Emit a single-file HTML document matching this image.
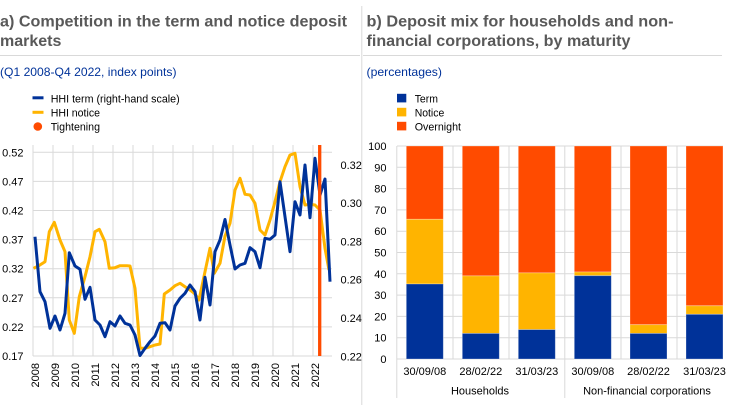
<!DOCTYPE html>
<html><head><meta charset="utf-8"><style>
html,body{margin:0;padding:0;background:#fff;}
svg{display:block;font-family:"Liberation Sans",Arial,sans-serif;}
</style></head><body>
<svg width="744" height="410" viewBox="0 0 744 410" xmlns="http://www.w3.org/2000/svg">
<rect width="744" height="410" fill="#fff"/>
<!-- titles -->
<g fill="#595959" font-weight="bold" font-size="16">
<text x="0" y="26.7" textLength="347" lengthAdjust="spacingAndGlyphs">a) Competition in the term and notice deposit</text>
<text x="0" y="46">markets</text>
<text x="366.5" y="26.7" textLength="307" lengthAdjust="spacingAndGlyphs">b) Deposit mix for households and non-</text>
<text x="366.5" y="46" textLength="264" lengthAdjust="spacingAndGlyphs">financial corporations, by maturity</text>
</g>
<line x1="0" y1="55.5" x2="360" y2="55.5" stroke="#d9d9d9" stroke-width="1"/>
<line x1="363" y1="55.5" x2="722" y2="55.5" stroke="#d9d9d9" stroke-width="1"/>
<line x1="361.8" y1="6" x2="361.8" y2="405" stroke="#d9d9d9" stroke-width="1"/>
<g fill="#003299" font-size="12">
<text x="0" y="76" textLength="176.5" lengthAdjust="spacingAndGlyphs">(Q1 2008-Q4 2022, index points)</text>
<text x="366.5" y="76" textLength="75.5" lengthAdjust="spacingAndGlyphs">(percentages)</text>
</g>
<!-- left legend -->
<line x1="32.5" y1="97.8" x2="43.5" y2="97.8" stroke="#003299" stroke-width="3"/>
<line x1="32.5" y1="112.3" x2="43.5" y2="112.3" stroke="#ffb400" stroke-width="3"/>
<circle cx="37.8" cy="126.5" r="4.3" fill="#ff4b00"/>
<g font-size="11" fill="#000">
<text x="50.7" y="102.3" textLength="129" lengthAdjust="spacingAndGlyphs">HHI term (right-hand scale)</text>
<text x="50.7" y="116.3" textLength="49.3" lengthAdjust="spacingAndGlyphs">HHI notice</text>
<text x="50.7" y="130.3" textLength="49.3" lengthAdjust="spacingAndGlyphs">Tightening</text>
</g>
<!-- right legend -->
<rect x="397" y="93.8" width="9.3" height="8.6" fill="#003299"/>
<rect x="397" y="107.8" width="9.3" height="8.6" fill="#ffb400"/>
<rect x="397" y="121.8" width="9.3" height="8.6" fill="#ff4b00"/>
<g font-size="11" fill="#000">
<text x="414.7" y="102.3" textLength="23.3" lengthAdjust="spacingAndGlyphs">Term</text>
<text x="414.7" y="116.3" textLength="29.6" lengthAdjust="spacingAndGlyphs">Notice</text>
<text x="414.7" y="130.3" textLength="46.3" lengthAdjust="spacingAndGlyphs">Overnight</text>
</g>

<!-- LEFT CHART grid -->
<g stroke="#d9d9d9" stroke-width="1">
<line x1="33" y1="152.3" x2="332" y2="152.3"/>
<line x1="33" y1="181.4" x2="332" y2="181.4"/>
<line x1="33" y1="210.5" x2="332" y2="210.5"/>
<line x1="33" y1="239.6" x2="332" y2="239.6"/>
<line x1="33" y1="268.7" x2="332" y2="268.7"/>
<line x1="33" y1="297.8" x2="332" y2="297.8"/>
<line x1="33" y1="326.9" x2="332" y2="326.9"/>
<line x1="33" y1="356" x2="332" y2="356"/>
<line x1="33" y1="145" x2="33" y2="356"/>
<line x1="53" y1="145" x2="53" y2="356"/>
<line x1="73" y1="145" x2="73" y2="356"/>
<line x1="93" y1="145" x2="93" y2="356"/>
<line x1="113" y1="145" x2="113" y2="356"/>
<line x1="133" y1="145" x2="133" y2="356"/>
<line x1="153" y1="145" x2="153" y2="356"/>
<line x1="173" y1="145" x2="173" y2="356"/>
<line x1="193" y1="145" x2="193" y2="356"/>
<line x1="213" y1="145" x2="213" y2="356"/>
<line x1="233" y1="145" x2="233" y2="356"/>
<line x1="253" y1="145" x2="253" y2="356"/>
<line x1="273" y1="145" x2="273" y2="356"/>
<line x1="293" y1="145" x2="293" y2="356"/>
<line x1="313" y1="145" x2="313" y2="356"/>
</g>
<g font-size="11" fill="#000" text-anchor="end">
<text x="23.5" y="156.3">0.52</text>
<text x="23.5" y="185.4">0.47</text>
<text x="23.5" y="214.5">0.42</text>
<text x="23.5" y="243.6">0.37</text>
<text x="23.5" y="272.7">0.32</text>
<text x="23.5" y="301.8">0.27</text>
<text x="23.5" y="330.9">0.22</text>
<text x="23.5" y="360">0.17</text>
</g>
<g font-size="11" fill="#000">
<text x="340.5" y="168.8">0.32</text>
<text x="340.5" y="207.1">0.30</text>
<text x="340.5" y="245.4">0.28</text>
<text x="340.5" y="283.7">0.26</text>
<text x="340.5" y="322">0.24</text>
<text x="340.5" y="360.3">0.22</text>
</g>
<g font-size="11" fill="#000" text-anchor="end">
<text transform="translate(39.2,363) rotate(-90)">2008</text>
<text transform="translate(59.2,363) rotate(-90)">2009</text>
<text transform="translate(79.2,363) rotate(-90)">2010</text>
<text transform="translate(99.2,363) rotate(-90)">2011</text>
<text transform="translate(119.2,363) rotate(-90)">2012</text>
<text transform="translate(139.2,363) rotate(-90)">2013</text>
<text transform="translate(159.2,363) rotate(-90)">2014</text>
<text transform="translate(179.2,363) rotate(-90)">2015</text>
<text transform="translate(199.2,363) rotate(-90)">2016</text>
<text transform="translate(219.2,363) rotate(-90)">2017</text>
<text transform="translate(239.2,363) rotate(-90)">2018</text>
<text transform="translate(259.2,363) rotate(-90)">2019</text>
<text transform="translate(279.2,363) rotate(-90)">2020</text>
<text transform="translate(299.2,363) rotate(-90)">2021</text>
<text transform="translate(319.2,363) rotate(-90)">2022</text>
</g>
<!-- series -->
<polyline fill="none" stroke="#ffb400" stroke-width="3" stroke-linejoin="round" points="33.5,268.3 38.3,266 45,261.7 49.3,231.7 54.3,222.3 60,240 65,251.7 69.3,320 74.3,333.3 79.3,296.7 85,276.7 90,256.7 95,231.7 99.3,229.3 105,241.7 109.3,268.3 115,267.7 120,265.7 126.7,265.7 130,266 135,288.3 140,348.3 145,348.3 150,346.7 155,345 160,344 164.3,294 170,290 175,285.7 180,283.3 185,286.7 190,290 195,294 199,300 205,271.7 210,248.3 214.3,273.3 220,263.3 225,236 230,223.3 235,190 240,178.3 245,194.3 250,195 255,203.3 260,230 265,235 270,220 275,201.7 280,181.7 285,166.7 290,155 295,153.3 300,186.7 305,205 310,204.3 315,205 320,210 325,248.3 329,270"/>
<polyline fill="none" stroke="#003299" stroke-width="3" stroke-linejoin="round" points="35,236.7 40,291.7 45,301.7 50,328.3 55,316 60,330 65,313.3 69.3,252.7 75,266 80,269.3 85,299.3 90,287.3 95,320 100,325 105,336.7 110,321.7 115,326 120,316 125,323.3 130,325 135,335 140,355.5 145,348.3 150,341.7 155,336 160,323.3 165,322.7 170,330 175,306 180,298.3 185,293.3 190,285 195,291.7 200,320 205,277.3 210,305 215,251.7 220,240 225,219.5 230,245 235,269 240,265 245,263.3 250,247.7 255,251.7 260,267.7 265,238.3 270,239.3 275,235 280,181.7 285,216.7 290,251.7 295,201.7 300,215 305,165 310,217.7 315,158.3 320,195 325,179 330,281.7"/>
<line x1="319.7" y1="145" x2="319.7" y2="356" stroke="#ff4b00" stroke-width="3.3"/>

<!-- RIGHT CHART grid -->
<g stroke="#d9d9d9" stroke-width="1">
<line x1="397" y1="146" x2="723" y2="146"/>
<line x1="397" y1="167.3" x2="723" y2="167.3"/>
<line x1="397" y1="188.6" x2="723" y2="188.6"/>
<line x1="397" y1="209.9" x2="723" y2="209.9"/>
<line x1="397" y1="231.2" x2="723" y2="231.2"/>
<line x1="397" y1="252.5" x2="723" y2="252.5"/>
<line x1="397" y1="273.8" x2="723" y2="273.8"/>
<line x1="397" y1="295.1" x2="723" y2="295.1"/>
<line x1="397" y1="316.4" x2="723" y2="316.4"/>
<line x1="397" y1="337.7" x2="723" y2="337.7"/>
<line x1="397" y1="359" x2="723" y2="359"/>
<line x1="453" y1="146" x2="453" y2="359"/>
<line x1="509" y1="146" x2="509" y2="359"/>
<line x1="621" y1="146" x2="621" y2="359"/>
<line x1="677" y1="146" x2="677" y2="359"/>
<line x1="396.8" y1="146" x2="396.8" y2="398"/>
<line x1="564.8" y1="146" x2="564.8" y2="398"/>
</g>
<g font-size="11" fill="#000" text-anchor="end">
<text x="386.5" y="150">100</text>
<text x="386.5" y="171.3">90</text>
<text x="386.5" y="192.6">80</text>
<text x="386.5" y="213.9">70</text>
<text x="386.5" y="235.2">60</text>
<text x="386.5" y="256.5">50</text>
<text x="386.5" y="277.8">40</text>
<text x="386.5" y="299.1">30</text>
<text x="386.5" y="320.4">20</text>
<text x="386.5" y="341.7">10</text>
<text x="386.5" y="363">0</text>
</g>
<!-- bars -->
<g stroke="rgba(255,255,255,0.35)" stroke-width="0.8">
<rect x="406.3" y="146" width="37" height="73.3" fill="#ff4b00"/>
<rect x="406.3" y="219.3" width="37" height="64.7" fill="#ffb400"/>
<rect x="406.3" y="284" width="37" height="75" fill="#003299"/>

<rect x="462.3" y="146" width="37" height="129.9" fill="#ff4b00"/>
<rect x="462.3" y="275.9" width="37" height="57.5" fill="#ffb400"/>
<rect x="462.3" y="333.4" width="37" height="25.6" fill="#003299"/>

<rect x="518.3" y="146" width="37" height="126.9" fill="#ff4b00"/>
<rect x="518.3" y="272.9" width="37" height="56.7" fill="#ffb400"/>
<rect x="518.3" y="329.6" width="37" height="29.4" fill="#003299"/>

<rect x="574.3" y="146" width="37" height="126" fill="#ff4b00"/>
<rect x="574.3" y="272" width="37" height="3.7" fill="#ffb400"/>
<rect x="574.3" y="275.7" width="37" height="83.3" fill="#003299"/>

<rect x="630" y="146" width="37" height="178.7" fill="#ff4b00"/>
<rect x="630" y="324.7" width="37" height="8.7" fill="#ffb400"/>
<rect x="630" y="333.4" width="37" height="25.6" fill="#003299"/>

<rect x="686" y="146" width="37" height="159.8" fill="#ff4b00"/>
<rect x="686" y="305.8" width="37" height="8.5" fill="#ffb400"/>
<rect x="686" y="314.3" width="37" height="44.7" fill="#003299"/>
</g>
<g font-size="11" fill="#000" text-anchor="middle">
<text x="424.8" y="375">30/09/08</text>
<text x="480.8" y="375">28/02/22</text>
<text x="536.8" y="375">31/03/23</text>
<text x="592.8" y="375">30/09/08</text>
<text x="648.5" y="375">28/02/22</text>
<text x="704.5" y="375">31/03/23</text>
<text x="480" y="394.3">Households</text>
<text x="647" y="394.3">Non-financial corporations</text>
</g>
</svg>
</body></html>
